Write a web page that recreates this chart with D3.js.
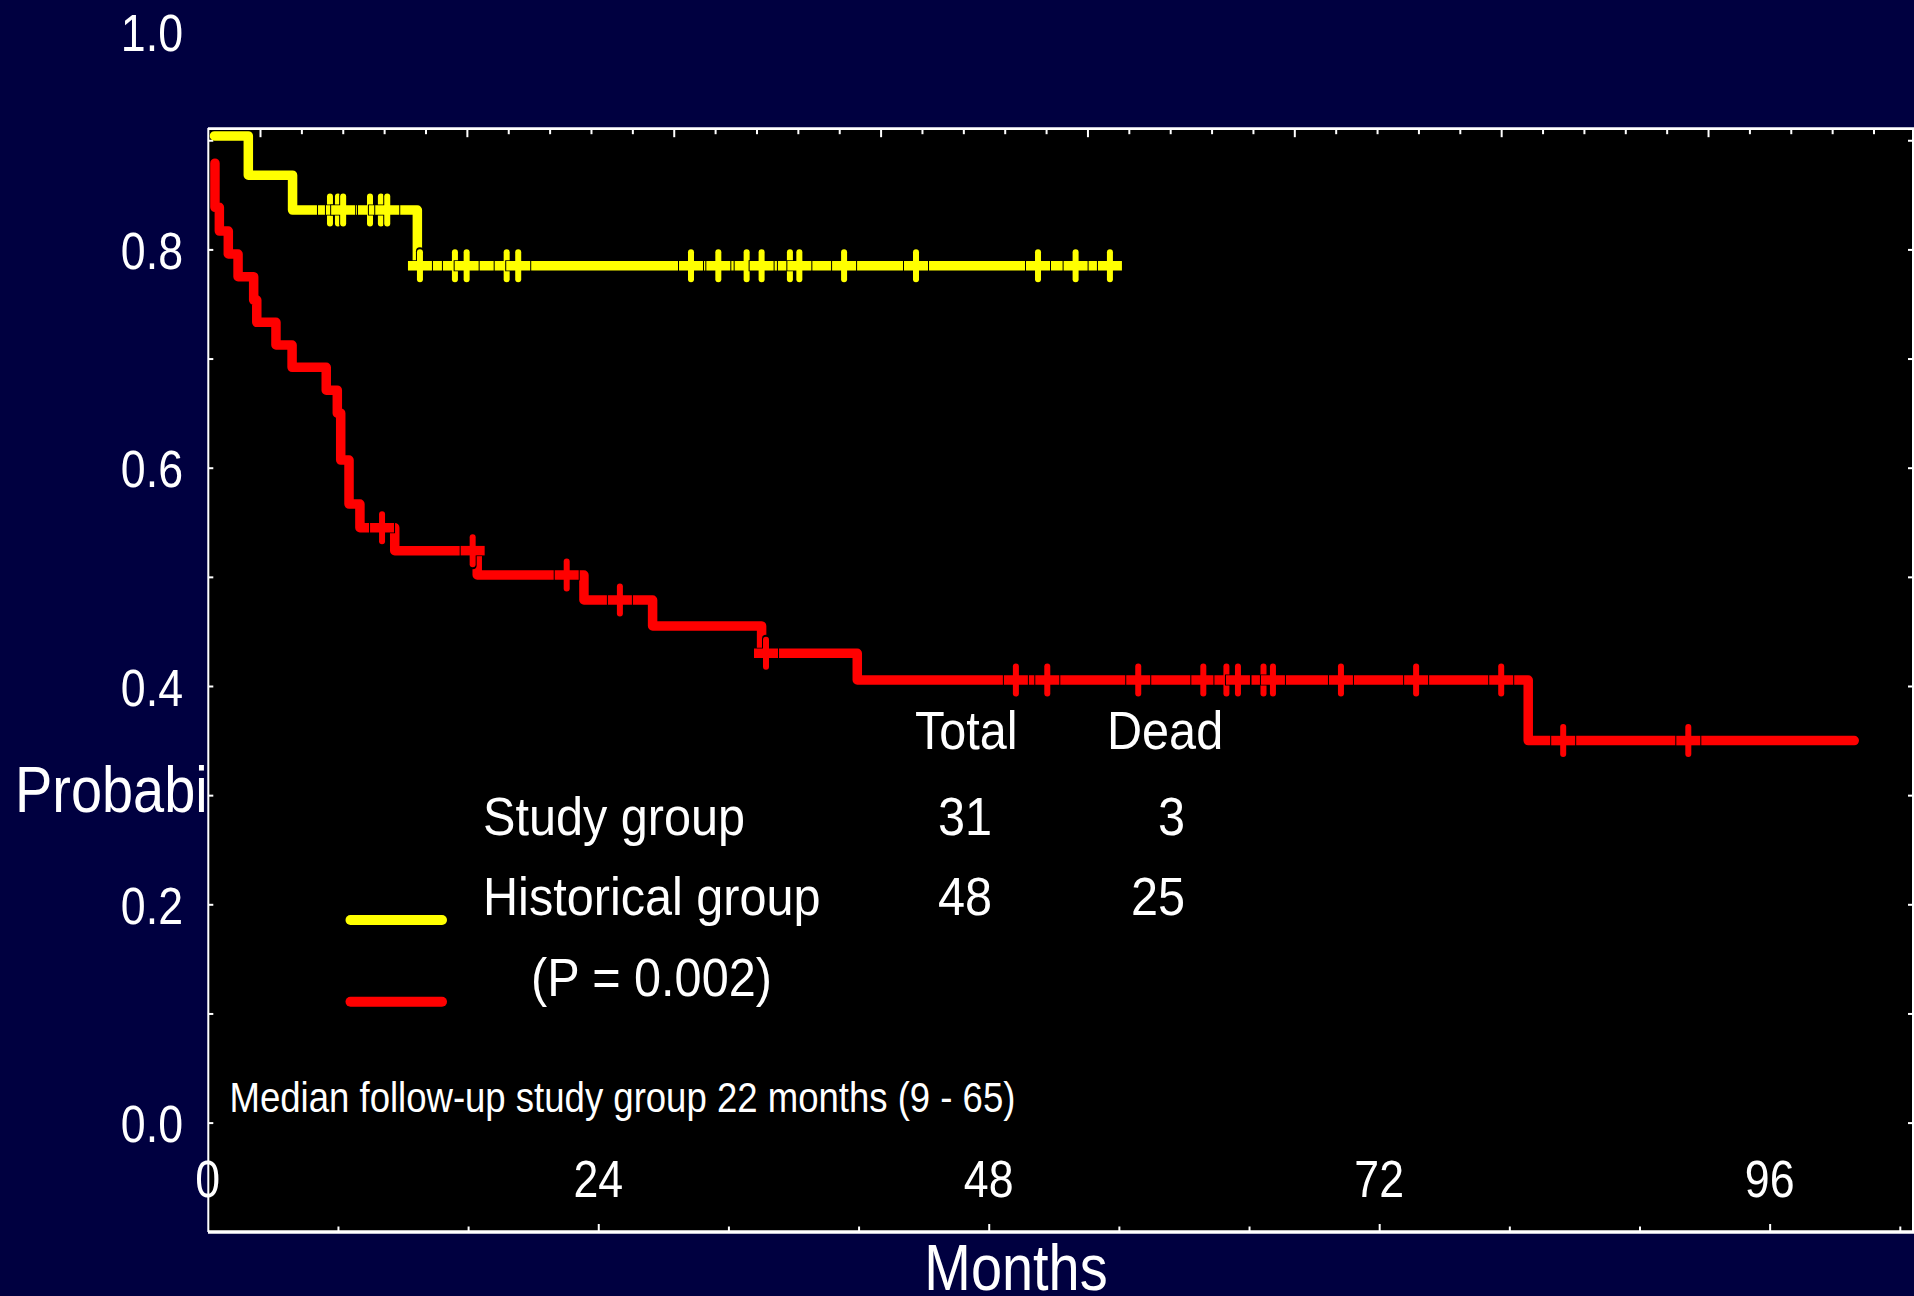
<!DOCTYPE html>
<html>
<head>
<meta charset="utf-8">
<script src="https://cdn.jsdelivr.net/npm/d3@7"></script>
<style>
  html, body { margin: 0; padding: 0; background: #000040; }
  svg { display: block; }
  text { font-family: "Liberation Sans", Arial, Helvetica, sans-serif; fill: #ffffff; }
</style>
</head>
<body>
<svg id="chart" width="1914" height="1296"></svg>
<script>
// Kaplan-Meier survival, study group vs historical group (months)

// Study group: step times and survival after each step
const studyTimes = [0.41, 2.49, 5.21, 12.88, 55.91];
const studySurv  = [0.904, 0.868, 0.836, 0.785, 0.785];
const studyCensored = [7.51, 8.0, 8.32, 9.97, 10.64, 11.03,
  13.04, 15.19, 15.91, 18.37, 19.08, 29.7, 31.38, 33.12, 34.04,
  35.78, 36.36, 39.11, 43.53, 51.03, 53.34, 55.45];

// Historical group
const histTimes = [0.44, 0.44, 0.71, 1.26, 1.86, 2.82, 3.01, 4.19, 5.18, 7.28,
  7.96, 8.17, 8.68, 9.35, 11.49, 16.56, 23.12, 27.34, 34.04, 39.92, 81.16, 101.2];
const histSurv  = [0.879, 0.8386, 0.8168, 0.7958, 0.775, 0.7536, 0.7332, 0.7124, 0.692, 0.671,
  0.650, 0.607, 0.5667, 0.545, 0.524, 0.5017, 0.4788, 0.455, 0.430, 0.4055, 0.350, 0.350];
const histCensored = [10.71, 16.28, 22.06, 25.33, 34.31, 49.67, 51.6, 57.19, 61.19,
  62.61, 63.32, 64.89, 65.47, 69.65, 74.27, 79.5, 83.31, 91.0];

// Axis ticks and labels
const yTickLabels = [0.0, 0.2, 0.4, 0.6, 0.8, 1.0];
const yTickMarks  = [0.0, 0.1, 0.2, 0.3, 0.4, 0.5, 0.6, 0.7, 0.8, 0.9];
const xTickLabels = [0, 24, 48, 72, 96];
const xTickMarks  = [8, 16, 24, 32, 40, 48, 56, 64, 72, 80, 88, 96, 104];
const topTickMarks = d3.range(0, 40);

// Legend table
const legendHeader = ["Total", "Dead"];
const groupNames = ["Study group", "Historical group"];
const groupTotals = [31, 48];
const groupDead = [3, 25];
const pValueText = "(P = 0.002)";
const followUpNote = "Median follow-up study group 22 months (9 - 65)";

const YELLOW = "#ffff00", RED = "#ff0000", WHITE = "#ffffff";

const svg = d3.select("#chart");
const plot = { left: 208, right: 1913, top: 128, bottom: 1232 };

const x = d3.scaleLinear().domain([0, 104.75]).range([207.8, 1912]);
const y = d3.scaleLinear().domain([0, 1]).range([1122.6, 31.1]);
const xTop = d3.scaleLinear().domain([-1.262, 39.93]).range([207.8, 1912]);

// condensed text helper
function label(parent, str, px, py, size, anchor, sx) {
  return parent.append("text")
    .attr("transform", `translate(${px},${py}) scale(${sx},1)`)
    .attr("text-anchor", anchor)
    .attr("font-size", size)
    .text(str);
}

svg.append("rect").attr("width", 1914).attr("height", 1296).attr("fill", "#000040");

// y axis title (the plot panel is drawn over its tail)
label(svg, "Probability", 15, 812, 65, "start", 0.86);

// plot panel
svg.append("rect")
  .attr("x", plot.left).attr("y", plot.top)
  .attr("width", plot.right - plot.left).attr("height", plot.bottom - plot.top)
  .attr("fill", "#000000");

// frame lines
const frame = svg.append("g").attr("stroke", WHITE);
frame.append("line").attr("x1", plot.left).attr("x2", 1914).attr("y1", 128.7).attr("y2", 128.7).attr("stroke-width", 2.7);
frame.append("line").attr("x1", plot.left).attr("x2", 1914).attr("y1", 1232).attr("y2", 1232).attr("stroke-width", 3.3);
frame.append("line").attr("x1", 208.3).attr("x2", 208.3).attr("y1", plot.top).attr("y2", plot.bottom).attr("stroke-width", 2);
frame.append("line").attr("x1", 1913).attr("x2", 1913).attr("y1", plot.top).attr("y2", plot.bottom).attr("stroke-width", 2);

// tick marks via d3 axes (inward)
function styleTicks(g, w) {
  g.select(".domain").remove();
  g.selectAll(".tick line").attr("stroke", WHITE).attr("stroke-width", w);
  g.selectAll(".tick text").remove();
}
svg.append("g").attr("transform", `translate(208.3,0)`)
  .call(d3.axisLeft(y).tickValues(yTickMarks).tickSize(-5).tickFormat(""))
  .call(g => styleTicks(g, 2));
svg.append("g").attr("transform", `translate(1913,0)`)
  .call(d3.axisRight(y).tickValues(yTickMarks).tickSize(-5).tickFormat(""))
  .call(g => styleTicks(g, 2));
svg.append("g").attr("transform", `translate(0,1232)`)
  .call(d3.axisBottom(x).tickValues(xTickMarks.filter(v => v % 24 !== 0)).tickSize(-5.5).tickFormat(""))
  .call(g => styleTicks(g, 2));
svg.append("g").attr("transform", `translate(0,1232)`)
  .call(d3.axisBottom(x).tickValues(xTickMarks.filter(v => v % 24 === 0)).tickSize(-8).tickFormat(""))
  .call(g => styleTicks(g, 2));
svg.append("g").attr("transform", `translate(0,128.7)`)
  .call(d3.axisTop(xTop).tickValues(topTickMarks.filter(v => v % 5 !== 0)).tickSize(-5.5).tickFormat(""))
  .call(g => styleTicks(g, 2));
svg.append("g").attr("transform", `translate(0,128.7)`)
  .call(d3.axisTop(xTop).tickValues(topTickMarks.filter(v => v % 5 === 0)).tickSize(-8.5).tickFormat(""))
  .call(g => styleTicks(g, 2));

// tick labels
const fmt = d3.format(".1f");
yTickLabels.forEach(v => label(svg, fmt(v), 183, y(v) + 19.5, 52, "end", 0.86));
xTickLabels.forEach(v => label(svg, String(v), x(v), 1197, 52, "middle", 0.86));
label(svg, "Months", 1016, 1290, 65, "middle", 0.86);

// survival curves
svg.append("clipPath").attr("id", "plotClip")
  .append("rect").attr("x", plot.left + 1).attr("y", plot.top + 1.5)
  .attr("width", plot.right - plot.left - 2).attr("height", plot.bottom - plot.top - 3);
const curves = svg.append("g").attr("clip-path", "url(#plotClip)");

const step = d3.line().x(d => x(d[0])).y(d => y(d[1])).curve(d3.curveStepAfter);

function survivalAt(times, surv, t) {
  let v = surv[0];
  for (let i = 0; i < times.length; i++) if (times[i] <= t) v = surv[i];
  return v;
}

function drawGroup(times, surv, censored, color) {
  const pts = times.map((t, i) => [t, surv[i]]);
  curves.append("path")
    .attr("d", step(pts))
    .attr("fill", "none")
    .attr("stroke", color)
    .attr("stroke-width", 9.5)
    .attr("stroke-linejoin", "round")
    .attr("stroke-linecap", "round");
  const marks = curves.append("g");
  censored.forEach(t => {
    const cx = x(t), cy = y(survivalAt(times, surv, t));
    const m = marks.append("g");
    // dark outline, then coloured cross
    m.append("line").attr("x1", cx - 13).attr("x2", cx + 13).attr("y1", cy).attr("y2", cy)
      .attr("stroke", "#000").attr("stroke-width", 11);
    m.append("line").attr("x1", cx).attr("x2", cx).attr("y1", cy - 14.5).attr("y2", cy + 14.5)
      .attr("stroke", "#000").attr("stroke-width", 8).attr("stroke-linecap", "round");
    m.append("line").attr("x1", cx - 12).attr("x2", cx + 12).attr("y1", cy).attr("y2", cy)
      .attr("stroke", color).attr("stroke-width", 9.5);
    m.append("line").attr("x1", cx).attr("x2", cx).attr("y1", cy - 13.5).attr("y2", cy + 13.5)
      .attr("stroke", color).attr("stroke-width", 6).attr("stroke-linecap", "round");
  });
}

drawGroup(histTimes, histSurv, histCensored, RED);
drawGroup(studyTimes, studySurv, studyCensored, YELLOW);

// legend table
const leg = svg.append("g");
label(leg, legendHeader[0], 915, 749, 54, "start", 0.9);
label(leg, legendHeader[1], 1107, 749, 54, "start", 0.9);
const rowY = [835, 915];
groupNames.forEach((name, i) => {
  label(leg, name, 483, rowY[i], 54, "start", 0.9);
  label(leg, String(groupTotals[i]), 992, rowY[i], 54, "end", 0.9);
  label(leg, String(groupDead[i]), 1185, rowY[i], 54, "end", 0.9);
});
label(leg, pValueText, 531, 996, 54, "start", 0.9);

const swatchY = [920, 1001.7];
[YELLOW, RED].forEach((c, i) => {
  leg.append("line").attr("x1", 350.5).attr("x2", 442).attr("y1", swatchY[i]).attr("y2", swatchY[i])
    .attr("stroke", c).attr("stroke-width", 10).attr("stroke-linecap", "round");
});

label(svg, followUpNote, 229.5, 1111.5, 42, "start", 0.87);
</script>
</body>
</html>
